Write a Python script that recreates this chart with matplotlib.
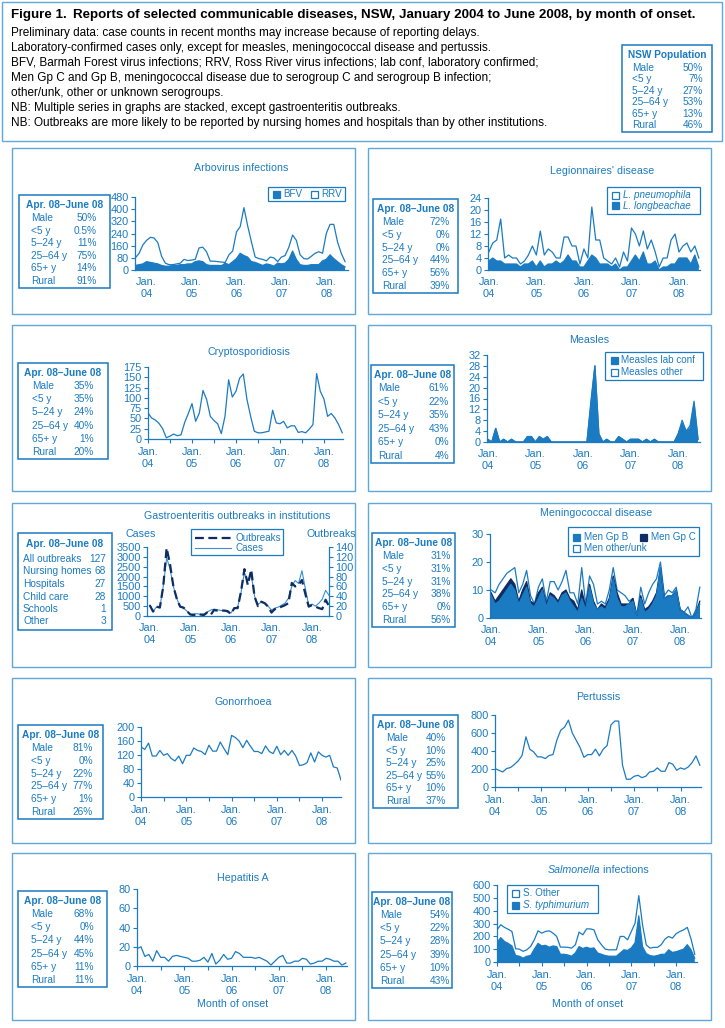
import numpy as np
import matplotlib
matplotlib.use('Agg')
import matplotlib.pyplot as plt
from matplotlib.patches import Rectangle
from matplotlib.lines import Line2D

plt.rcParams['font.family'] = ['Liberation Sans', 'DejaVu Sans']

BLUE = '#1b7bc2'
NAVY = '#0f2d63'
FRAME = '#5fa8dc'
LEG = 7.1  # legend text size

# ---- data: monthly counts, Jan 2004 (index 0) .. Jun 2008 (index 53) ----
year_ticks = [0, 12, 24, 36, 48]
year_labels = ['Jan.\n04', 'Jan.\n05', 'Jan.\n06', 'Jan.\n07', 'Jan.\n08']
half_ticks = [6, 18, 30, 42]

# arbovirus starts Oct 2003 (index -3)
arbo_start = -3
bfv = [30, 35, 40, 55, 50, 45, 40, 30, 25, 25, 30, 30, 35, 35, 40, 40, 55, 60, 55, 35,
       30, 30, 30, 28, 45, 35, 55, 75, 110, 95, 85, 55, 50, 40, 30, 40, 35, 25, 45, 40,
       45, 70, 125, 70, 35, 30, 30, 35, 35, 35, 60, 70, 100, 75, 55, 35, 20]
rrv = [50, 75, 125, 140, 165, 165, 140, 60, 20, 10, 5, 10, 10, 35, 22, 25, 15, 85, 95, 85,
       28, 28, 25, 24, 5, 65, 70, 175, 175, 315, 205, 130, 35, 35, 40, 20, 50, 55, 10, 45,
       50, 80, 105, 125, 65, 45, 42, 55, 75, 85, 50, 170, 200, 225, 130, 75, 35]

l_pneumophila = [3, 5, 7, 14, 2, 3, 2, 2, 1, 1, 3, 5, 4, 10, 4, 5, 4, 1, 2, 8,
                 6, 5, 5, 1, 6, 1, 16, 6, 8, 2, 1, 1, 2, 1, 5, 2, 11, 7, 5, 7,
                 5, 8, 3, 1, 3, 3, 8, 10, 2, 4, 5, 4, 3, 3]
l_longbeachae = [3, 4, 3, 3, 2, 2, 2, 2, 1, 2, 2, 3, 1, 3, 1, 2, 2, 3, 2, 3,
                 5, 3, 3, 1, 1, 3, 5, 4, 2, 2, 2, 1, 2, 0, 1, 1, 3, 5, 3, 6,
                 2, 2, 3, 0, 1, 1, 2, 2, 4, 4, 4, 2, 5, 1]

crypto = [63, 51, 46, 38, 25, 3, 7, 12, 8, 10, 40, 62, 86, 43, 63, 118, 96, 55, 45, 37,
          13, 55, 144, 102, 116, 148, 158, 96, 55, 19, 15, 15, 17, 19, 70, 39, 37, 43, 27, 32,
          32, 16, 18, 15, 24, 35, 159, 116, 97, 55, 62, 51, 35, 15]

measles_lab = [1, 0, 5, 0, 1, 0, 1, 0, 0, 0, 2, 2, 0, 2, 1, 2, 0, 0, 0, 0,
               0, 0, 0, 0, 0, 0, 14, 28, 3, 0, 1, 0, 0, 2, 1, 0, 1, 1, 1, 0,
               1, 0, 1, 0, 0, 0, 0, 0, 3, 7, 4, 5, 14, 1]
measles_other = [0, 0, 0, 0, 0, 0, 0, 0, 0, 0, 0, 0, 0, 0, 0, 0, 0, 0, 0, 0,
                 0, 0, 0, 0, 0, 0, 1, 0, 0, 0, 0, 0, 0, 0, 0, 0, 0, 0, 0, 0,
                 0, 0, 0, 0, 0, 0, 0, 0, 0, 1, 0, 1, 1, 0]

gastro_outbreaks = [22, 9, 19, 17, 60, 138, 105, 60, 35, 19, 17, 10, 3, 2, 4, 3, 2, 7, 2, 12,
                    11, 11, 11, 10, 4, 16, 16, 50, 95, 63, 94, 39, 20, 29, 26, 19, 7, 14, 16, 19,
                    22, 26, 67, 60, 63, 73, 45, 19, 22, 19, 16, 14, 33, 20]
gastro_cases = [550, 250, 450, 450, 1500, 2950, 2400, 1500, 900, 450, 400, 250, 80, 100, 120, 80,
                100, 200, 300, 350, 320, 280, 270, 200, 150, 400, 450, 1200, 2200, 1800, 2100, 1000,
                600, 700, 650, 500, 300, 400, 450, 550, 650, 900, 1500, 1800, 1650, 2300, 1400, 550,
                600, 500, 650, 850, 1300, 1050]

men_b = [8, 5, 6, 8, 10, 12, 10, 5, 8, 11, 5, 4, 7, 10, 4, 8, 7, 5, 8, 9,
         6, 4, 2, 7, 3, 11, 5, 3, 4, 3, 6, 14, 7, 4, 4, 5, 6, 1, 7, 2,
         3, 5, 8, 18, 7, 8, 8, 10, 3, 2, 1, 0, 2, 5]
men_c = [1, 1, 2, 2, 2, 2, 2, 1, 2, 2, 1, 1, 2, 1, 1, 1, 1, 1, 1, 1,
         1, 2, 1, 3, 1, 1, 1, 0, 1, 1, 1, 1, 2, 1, 1, 0, 1, 0, 1, 1,
         1, 1, 1, 0, 0, 0, 0, 0, 0, 0, 0, 0, 0, 1]
men_other = [1, 3, 4, 4, 4, 3, 6, 3, 2, 4, 2, 0, 2, 3, 1, 4, 5, 4, 4, 7,
             2, 3, 2, 8, 1, 3, 6, 2, 1, 1, 3, 3, 1, 4, 3, 1, 0, 0, 3, 2,
             5, 6, 5, 2, 1, 2, 1, 1, 0, 0, 3, 0, 1, 5]

gonorrhoea = [143, 136, 154, 117, 117, 133, 119, 124, 110, 103, 117, 95, 119, 119, 140, 133, 130, 121,
              148, 131, 131, 157, 138, 121, 176, 170, 160, 141, 162, 145, 130, 130, 124, 146, 130, 124,
              145, 121, 133, 119, 133, 117, 90, 92, 98, 126, 100, 129, 119, 114, 119, 86, 83, 48]

pertussis = [205, 186, 167, 205, 216, 250, 290, 350, 558, 420, 390, 335, 335, 316, 350, 360, 520, 630,
             665, 743, 600, 520, 440, 330, 360, 360, 420, 346, 420, 460, 690, 733, 733, 240, 86, 86,
             119, 130, 104, 119, 167, 175, 212, 175, 175, 271, 253, 186, 212, 197, 223, 271, 346, 242]

hep_a = [18, 20, 10, 12, 5, 16, 9, 9, 5, 10, 11, 10, 9, 8, 5, 5, 6, 9, 4, 13,
         2, 6, 12, 7, 8, 15, 13, 9, 9, 9, 8, 9, 7, 5, 1, 5, 9, 11, 3, 3,
         5, 5, 8, 7, 2, 3, 5, 5, 8, 7, 5, 5, 1, 3]

s_typhimurium = [150, 190, 160, 145, 125, 50, 45, 30, 45, 50, 100, 145, 125, 130, 115, 125, 120, 60,
                 60, 55, 45, 70, 120, 105, 115, 105, 110, 70, 60, 50, 45, 45, 45, 70, 95, 90,
                 110, 150, 360, 120, 65, 50, 45, 50, 60, 60, 95, 75, 80, 90, 100, 135, 95, 30]
s_other = [100, 100, 110, 110, 113, 53, 55, 53, 50, 71, 73, 98, 100, 108, 128, 100, 79, 56,
           56, 59, 63, 64, 113, 107, 143, 153, 140, 103, 74, 50, 50, 50, 50, 129, 104, 83,
           128, 152, 157, 170, 69, 58, 69, 64, 74, 118, 104, 111, 140, 148, 150, 135, 85, 30]

stat_labels = ['Male', '<5 y', '5–24 y', '25–64 y', '65+ y', 'Rural']
nsw_pop = ['50%', '7%', '27%', '53%', '13%', '46%']
arbo_stats = ['50%', '0.5%', '11%', '75%', '14%', '91%']
legion_stats = ['72%', '0%', '0%', '44%', '56%', '39%']
crypto_stats = ['35%', '35%', '24%', '40%', '1%', '20%']
measles_stats = ['61%', '22%', '35%', '43%', '0%', '4%']
men_stats = ['31%', '31%', '31%', '38%', '0%', '56%']
gono_stats = ['81%', '0%', '22%', '77%', '1%', '26%']
pert_stats = ['40%', '10%', '25%', '55%', '10%', '37%']
hepa_stats = ['68%', '0%', '44%', '45%', '11%', '11%']
salm_stats = ['54%', '22%', '28%', '39%', '10%', '43%']
outbreak_labels = ['All outbreaks', 'Nursing homes', 'Hospitals', 'Child care', 'Schools', 'Other']
outbreak_counts = ['127', '68', '27', '28', '1', '3']

header_lines = [
    'Preliminary data: case counts in recent months may increase because of reporting delays.',
    'Laboratory-confirmed cases only, except for measles, meningococcal disease and pertussis.',
    'BFV, Barmah Forest virus infections; RRV, Ross River virus infections; lab conf, laboratory confirmed;',
    'Men Gp C and Gp B, meningococcal disease due to serogroup C and serogroup B infection;',
    'other/unk, other or unknown serogroups.',
    'NB: Multiple series in graphs are stacked, except gastroenteritis outbreaks.',
    'NB: Outbreaks are more likely to be reported by nursing homes and hospitals than by other institutions.',
]

# ---- figure helpers (pixel coordinates, origin top-left) ----
W, H = 725, 1028
fig = plt.figure(figsize=(W / 100, H / 100), dpi=100)
fig.patch.set_facecolor('white')


def fx(x):
    return x / W


def fy(y):
    return 1 - y / H


def ftext(x, y, s, size=7.7, color=BLUE, **kw):
    kw.setdefault('va', 'center')
    return fig.text(fx(x), fy(y), s, fontsize=size, color=color, **kw)


def frame(x0, y0, x1, y1, color=FRAME, lw=1.0, fc='none'):
    fig.add_artist(Rectangle((fx(x0), fy(y1)), fx(x1) - fx(x0), fy(y0) - fy(y1),
                             transform=fig.transFigure, fc=fc, ec=color, lw=lw))


def square(x, y, filled, color=BLUE):
    frame(x - 3.5, y - 3.5, x + 3.5, y + 3.5, color=color, lw=0.9,
          fc=color if filled else 'white')


def stat_box(x0, y0, x1, y1, lab_x, val_x, values, labels=stat_labels,
             title='Apr. 08–June 08'):
    frame(x0, y0, x1, y1, color=BLUE, lw=1.1)
    ftext((x0 + x1) / 2, y0 + 10, title, size=7.3, weight='bold', ha='center')
    step = (y1 - y0 - 30) / (len(labels) - 1)
    for i, (lab, val) in enumerate(zip(labels, values)):
        yy = y0 + 23 + i * step
        ftext(lab_x, yy, lab, size=7.3, ha='left')
        ftext(val_x, yy, val, size=7.3, ha='right')


def panel_axes(x0, y_top, x1, y_bot, xlim, ylim, yticks, halfticks=False):
    ax = fig.add_axes([fx(x0), fy(y_bot), fx(x1) - fx(x0), fy(y_top) - fy(y_bot)])
    ax.set_xlim(*xlim)
    ax.set_ylim(*ylim)
    ax.patch.set_visible(False)
    for s in ('top', 'right'):
        ax.spines[s].set_visible(False)
    for s in ('left', 'bottom'):
        ax.spines[s].set_color(BLUE)
        ax.spines[s].set_linewidth(0.9)
    ax.set_yticks(yticks)
    ax.set_xticks(year_ticks, year_labels)
    ax.tick_params(axis='y', colors=BLUE, labelsize=7.9, length=3, width=0.8, pad=1.5)
    ax.tick_params(axis='x', colors=BLUE, labelsize=7.9, length=3 if halfticks else 0,
                   width=0.8, pad=5 if not halfticks else 2.5)
    if halfticks:
        ax.set_xticks(half_ticks, minor=True)
        ax.tick_params(axis='x', which='minor', length=3, width=0.8, color=BLUE)
    for lbl in ax.get_xticklabels():
        lbl.set_linespacing(1.3)
    return ax


def stacked(ax, x, bottom, top, fill, edge=BLUE):
    ax.fill_between(x, bottom, top, facecolor=fill, edgecolor='none', lw=0)
    ax.plot(x, top, color=edge, lw=0.9)


m = np.arange(54)

# ---- header ----
frame(2, 2, 722, 141, color=FRAME, lw=1.0)
ftext(11, 15, 'Figure 1.', size=9.6, color='black', weight='bold')
ftext(73, 15, 'Reports of selected communicable diseases, NSW, January 2004 to June 2008, by month of onset.',
      size=9.6, color='black', weight='bold')
for i, line in enumerate(header_lines):
    ftext(11, 33 + i * 15, line, size=8.5, color='black')
stat_box(622, 45, 712, 132, 632, 703, nsw_pop, title='NSW Population')

# ---- panel frames ----
rows = [(148, 314), (325, 491), (503, 667), (678, 843), (853, 1020)]
for (t, b) in rows:
    frame(12, t, 355, b)
    frame(368, t, 711, b)

# 1 Arbovirus
ax = panel_axes(135, 197, 348, 270, (-3.1, 53.8), (0, 480), range(0, 481, 80))
xa = np.arange(len(bfv)) + arbo_start
b = np.array(bfv)
t = b + np.array(rrv)
stacked(ax, xa, 0, t, 'white')
stacked(ax, xa, 0, b, BLUE)
ftext(241, 168, 'Arbovirus infections', ha='center')
frame(268, 187, 345, 201, color=BLUE, lw=0.9)
square(276, 194, True)
ftext(283, 194, 'BFV', size=LEG)
square(314, 194, False)
ftext(321, 194, 'RRV', size=LEG)
stat_box(19, 195, 110, 288, 31, 97, arbo_stats)

# 2 Legionnaires
ax = panel_axes(488, 198, 700, 270, (-0.2, 53.3), (0, 24), range(0, 25, 4))
b = np.array(l_longbeachae)
t = b + np.array(l_pneumophila)
stacked(ax, m, 0, t, 'white')
stacked(ax, m, 0, b, BLUE)
ftext(602, 171, "Legionnaires' disease", ha='center')
frame(607, 187, 700, 214, color=BLUE, lw=0.9)
square(615, 195, False)
ftext(623, 195, 'L. pneumophila', style='italic', size=LEG)
square(615, 206, True)
ftext(623, 206, 'L. longbeachae', style='italic', size=LEG)
stat_box(373, 199, 458, 293, 382, 450, legion_stats)

# 3 Cryptosporidiosis
ax = panel_axes(148, 367, 343, 439, (0, 53.2), (0, 175), range(0, 176, 25), halfticks=True)
ax.plot(m, crypto, color=BLUE, lw=0.9)
ftext(249, 352, 'Cryptosporidiosis', ha='center')
stat_box(18, 363, 108, 459, 32, 94, crypto_stats)

# 4 Measles
ax = panel_axes(487, 355, 700, 442, (-0.2, 53.5), (0, 32), range(0, 33, 4))
b = np.array(measles_lab)
t = b + np.array(measles_other)
stacked(ax, m, 0, t, 'white')
stacked(ax, m, 0, b, BLUE)
ftext(589, 340, 'Measles', ha='center')
frame(605, 352, 703, 380, color=BLUE, lw=0.9)
square(614, 360, True)
ftext(621, 360, 'Measles lab conf', size=LEG)
square(614, 372, False)
ftext(621, 372, 'Measles other', size=LEG)
stat_box(371, 365, 454, 463, 378, 449, measles_stats)

# 5 Gastroenteritis outbreaks
ax = panel_axes(147, 547, 329, 616, (-0.8, 53), (0, 3500), range(0, 3501, 500))
ax.plot(m, gastro_cases, color='#3a8fd2', lw=0.8)
ax2 = ax.twinx()
ax2.set_ylim(0, 140)
ax2.set_yticks(range(0, 141, 20))
for s in ('top', 'left', 'bottom'):
    ax2.spines[s].set_visible(False)
ax2.spines['right'].set_color(BLUE)
ax2.spines['right'].set_linewidth(0.9)
ax2.tick_params(axis='y', colors=BLUE, labelsize=7.9, length=3, width=0.8, pad=1.5)
ax2.plot(m, gastro_outbreaks, color=NAVY, lw=1.6, dashes=(4, 2))
ftext(237, 516, 'Gastroenteritis outbreaks in institutions', ha='center')
ftext(141, 534, 'Cases', ha='center')
ftext(331, 534, 'Outbreaks', ha='center')
frame(191, 529, 283, 555, color=BLUE, lw=0.9)
fig.add_artist(Line2D([fx(195), fx(231)], [fy(538), fy(538)], transform=fig.transFigure,
                      color=NAVY, lw=1.6, dashes=(4, 2)))
ftext(235, 538, 'Outbreaks', size=LEG)
fig.add_artist(Line2D([fx(195), fx(231)], [fy(548), fy(548)], transform=fig.transFigure,
                      color='#3a8fd2', lw=0.8))
ftext(235, 548, 'Cases', size=LEG)
frame(18, 533, 112, 630, color=BLUE, lw=1.1)
ftext(65, 544, 'Apr. 08–June 08', size=7.3, weight='bold', ha='center')
for i, (lab, val) in enumerate(zip(outbreak_labels, outbreak_counts)):
    ftext(23, 559 + i * 12.5, lab, size=7.3)
    ftext(106, 559 + i * 12.5, val, size=7.3, ha='right')

# 6 Meningococcal
ax = panel_axes(490, 534, 701, 618, (-0.3, 53.3), (0, 30), range(0, 31, 10))
b = np.array(men_b)
c = b + np.array(men_c)
t = c + np.array(men_other)
stacked(ax, m, 0, t, 'white')
stacked(ax, m, 0, c, NAVY, edge=NAVY)
stacked(ax, m, 0, b, BLUE)
ftext(596, 513, 'Meningococcal disease', ha='center')
frame(568, 527, 699, 556, color=BLUE, lw=0.9)
square(576, 537, True)
ftext(584, 537, 'Men Gp B', size=LEG)
square(643, 537, True, color=NAVY)
ftext(651, 537, 'Men Gp C', size=LEG)
square(576, 548, False)
ftext(584, 548, 'Men other/unk', size=LEG)
stat_box(372, 533, 455, 627, 382, 451, men_stats)

# 7 Gonorrhoea
ax = panel_axes(141, 727, 341, 797, (0, 53), (0, 200), range(0, 201, 40), halfticks=True)
ax.plot(m, gonorrhoea, color=BLUE, lw=0.9)
ftext(243, 702, 'Gonorrhoea', ha='center')
stat_box(18, 725, 103, 819, 31, 93, gono_stats)

# 8 Pertussis
ax = panel_axes(495, 715, 701, 787, (0, 53.3), (0, 800), range(0, 801, 200), halfticks=True)
ax.plot(m, pertussis, color=BLUE, lw=0.9)
ftext(598, 697, 'Pertussis', ha='center')
stat_box(373, 715, 458, 808, 386, 446, pert_stats)

# 9 Hepatitis A
ax = panel_axes(137, 889, 347, 966, (0, 53.3), (0, 80), range(0, 81, 20), halfticks=True)
ax.plot(m, hep_a, color=BLUE, lw=0.9)
ftext(243, 878, 'Hepatitis A', ha='center')
ftext(233, 1004, 'Month of onset', ha='center')
stat_box(18, 891, 107, 987, 31, 94, hepa_stats)

# 10 Salmonella
ax = panel_axes(497, 885, 697, 962, (0, 53.6), (0, 600), range(0, 601, 100), halfticks=True)
b = np.array(s_typhimurium)
t = b + np.array(s_other)
stacked(ax, m, 0, t, 'white')
stacked(ax, m, 0, b, BLUE)
renderer = fig.canvas.get_renderer()
t1 = ftext(598, 870, 'Salmonella', style='italic', ha='right')
t2 = ftext(598, 870, ' infections', ha='left')
w1 = t1.get_window_extent(renderer).width
w2 = t2.get_window_extent(renderer).width
t1.set_x(fx(598 + (w1 + w2) / 2 - w2))
t2.set_x(fx(598 + (w1 + w2) / 2 - w2))
ftext(588, 1004, 'Month of onset', ha='center')
frame(507, 885, 598, 913, color=BLUE, lw=0.9)
square(515, 893, False)
ftext(523, 893, 'S. Other', size=LEG)
square(515, 905, True)
ftext(523, 905, 'S. typhimurium', style='italic', size=LEG)
stat_box(372, 892, 452, 988, 380, 450, salm_stats)

fig.savefig('out.png', dpi=100, facecolor='white')
